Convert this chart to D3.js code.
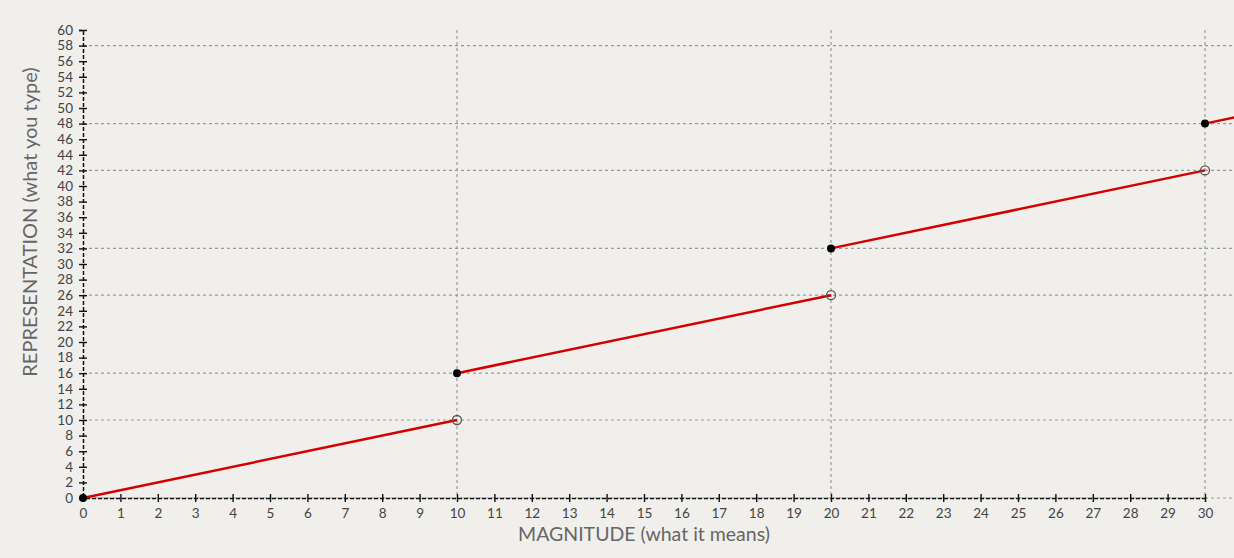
<!DOCTYPE html>
<html><head><meta charset="utf-8">
<script src="https://cdn.jsdelivr.net/npm/d3@7"></script>
<style>
html,body{margin:0;padding:0;background:#f0efeb;}
svg{display:block;font-family:Lato,"Open Sans",sans-serif;}
</style></head><body>
<svg id="c" width="1234" height="558"></svg>
<script>
// Data
const xTicks = d3.range(0, 31, 1);
const yTicks = d3.range(0, 61, 2);
const vGrid = [10, 20, 30];
const hGrid = [0, 10, 16, 26, 32, 42, 48, 58];
const segments = [
  [[0, 0], [10, 10]],
  [[10, 16], [20, 26]],
  [[20, 32], [30, 42]],
  [[30, 48], [31, 49]]
];
const filledPts = [[0, 0], [10, 16], [20, 32], [30, 48]];
const openPts = [[10, 10], [20, 26], [30, 42]];

const svg = d3.select("#c");
const x = d3.scaleLinear().domain([0, 30]).range([83, 1205]);
const y = d3.scaleLinear().domain([0, 60]).range([498, 30]);

// grid
svg.append("g").selectAll("line").data(vGrid).join("line")
  .attr("x1", d => x(d)).attr("x2", d => x(d)).attr("y1", y(60)).attr("y2", y(0))
  .attr("stroke", "#999").attr("stroke-width", 1.2).attr("stroke-dasharray", "3,3");
svg.append("g").selectAll("line").data(hGrid).join("line")
  .attr("x1", x(0)).attr("x2", 1234).attr("y1", d => y(d)).attr("y2", d => y(d))
  .attr("stroke", "#999").attr("stroke-width", 1.2).attr("stroke-dasharray", "3,3");

// axes
const xAxis = svg.append("g").attr("transform", `translate(0,${y(0)})`)
  .call(d3.axisBottom(x).tickValues(xTicks).tickFormat(d3.format("d")).tickSizeInner(4).tickSizeOuter(4).tickPadding(6));
const yAxis = svg.append("g").attr("transform", `translate(${x(0)},0)`)
  .call(d3.axisLeft(y).tickValues(yTicks).tickFormat(d3.format("d")).tickSizeInner(4).tickSizeOuter(4).tickPadding(6));
[xAxis, yAxis].forEach(a => {
  a.select(".domain").attr("stroke", "#111").attr("stroke-width", 1.5).attr("stroke-dasharray", "4,2");
  a.selectAll(".tick line").attr("stroke", "#111").attr("stroke-width", 1.4);
  a.selectAll("text").attr("fill", "#444").style("font-size", "13.5px").style("font-family", "Lato, sans-serif");
});
xAxis.selectAll(".tick line").attr("y1", -4).attr("y2", 4);
yAxis.selectAll(".tick line").attr("x1", 4).attr("x2", -4);
xAxis.selectAll("text").attr("dy", "0.71em");

// lines
svg.append("defs").append("clipPath").attr("id", "clip").append("rect")
  .attr("x", 0).attr("y", 0).attr("width", 1234).attr("height", 558);
const line = d3.line().x(d => x(d[0])).y(d => y(d[1]));
svg.append("g").attr("clip-path", "url(#clip)").selectAll("path").data(segments).join("path")
  .attr("d", line).attr("fill", "none").attr("stroke", "#d40000").attr("stroke-width", 2.5);

// points
svg.append("g").selectAll("circle").data(filledPts).join("circle")
  .attr("cx", d => x(d[0])).attr("cy", d => y(d[1])).attr("r", 4).attr("fill", "#000");
svg.append("g").selectAll("circle").data(openPts).join("circle")
  .attr("cx", d => x(d[0])).attr("cy", d => y(d[1])).attr("r", 4.5)
  .attr("fill", "none").attr("stroke", "#555").attr("stroke-width", 1.3);

// labels
svg.append("text").attr("x", 644).attr("y", 541).attr("text-anchor", "middle")
  .attr("fill", "#666").style("font-size", "19.5px").text("MAGNITUDE (what it means)");
svg.append("text").attr("transform", "translate(37,222) rotate(-90)").attr("text-anchor", "middle")
  .attr("fill", "#666").style("font-size", "20px").text("REPRESENTATION (what you type)");
</script>
</body></html>
